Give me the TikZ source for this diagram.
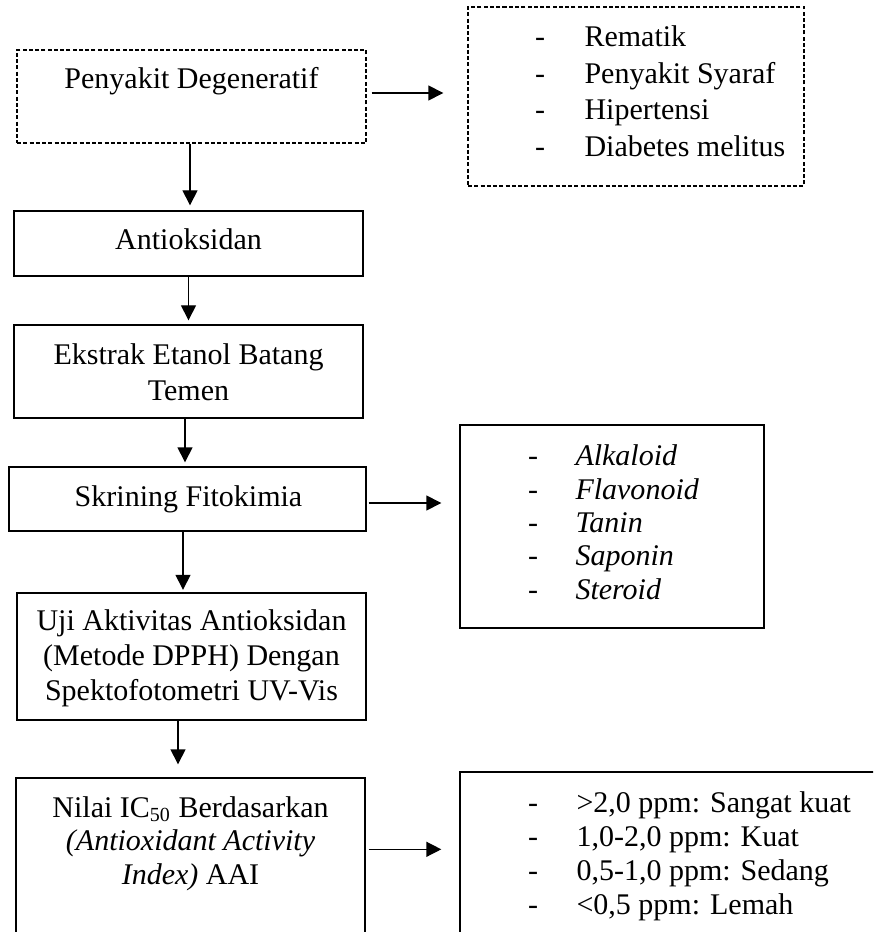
\documentclass[tikz,border=0pt]{standalone}
\usepackage{fontspec}
\setmainfont{Liberation Serif}
\usetikzlibrary{arrows.meta}
\begin{document}
\begin{tikzpicture}[x=0.4pt,y=-0.4pt,
  box/.style={draw, line width=0.55pt, rectangle, inner sep=0pt},
  dbox/.style={box, dash pattern=on 1.6pt off 0.9pt},
  txt/.style={inner sep=0pt, anchor=base, font=\fontsize{12pt}{14pt}\selectfont},
  ltxt/.style={txt, anchor=base west},
  arr/.style={draw, line width=0.55pt, -{Triangle[length=6pt,width=6pt]}}]
\useasboundingbox (0,0) rectangle (873,932);
\clip (0,0) rectangle (873,932);
% boxes
\node[dbox, minimum width=349*0.4pt, minimum height=93*0.4pt] (pd) at (191.5,96.5) {};
\node[dbox, minimum width=336*0.4pt, minimum height=179*0.4pt] (rl) at (636,96.5) {};
\node[box, minimum width=349*0.4pt, minimum height=65*0.4pt] (an) at (188.5,243.5) {};
\node[box, minimum width=349*0.4pt, minimum height=93*0.4pt] (ek) at (188.5,371.5) {};
\node[box, minimum width=357*0.4pt, minimum height=64*0.4pt] (sk) at (187.5,499) {};
\node[box, minimum width=304*0.4pt, minimum height=203*0.4pt] (fl) at (612,526.5) {};
\node[box, minimum width=349*0.4pt, minimum height=127*0.4pt] (uj) at (191.5,656.5) {};
\node[box, minimum width=349*0.4pt, minimum height=180*0.4pt] (ni) at (190.5,868) {};
\node[box, minimum width=440*0.4pt, minimum height=180*0.4pt] (pp) at (680,862) {};
% texts
\node[txt] (t1) at (191.5,89) {Penyakit Degeneratif};
\node[txt] (t2) at (188.5,250) {Antioksidan};
\node[txt] (t3a) at (188.5,364) {Ekstrak Etanol Batang};
\node[txt] (t3b) at (188.5,400) {Temen};
\node[txt] (t4) at (188.5,506) {Skrining Fitokimia};
\node[txt] (t5a) at (191.5,630) {Uji Aktivitas Antioksidan};
\node[txt] (t5b) at (191.5,665) {(Metode DPPH) Dengan};
\node[txt] (t5c) at (191.5,700) {Spektofotometri UV-Vis};
\node[txt] (t6a) at (190.5,817) {Nilai IC\textsubscript{50} Berdasarkan};
\node[txt] (t6b) at (190.5,850) {\textit{(Antioxidant Activity}};
\node[txt] (t6c) at (190.5,884) {\textit{Index)} AAI};
% list 1
\foreach \y/\t [count=\i] in {47/Rematik,83.5/Penyakit Syaraf,120/Hipertensi,157/Diabetes melitus}{
  \node[txt] (d1\i) at (540,\y) {-};
  \node[ltxt] (l1\i) at (584,\y) {\t};
}
% list 2
\foreach \y/\t [count=\i] in {465/Alkaloid,499/Flavonoid,532/Tanin,565/Saponin,599/Steroid}{
  \node[txt] (d2\i) at (533,\y) {-};
  \node[ltxt] (l2\i) at (575,\y) {\textit{\t}};
}
% list 3
\foreach \y/\t [count=\i] in {812/{>2,0 ppm: Sangat kuat},846/{1,0-2,0 ppm: Kuat},880/{0,5-1,0 ppm: Sedang},914/{<0,5 ppm: Lemah}}{
  \node[txt] (d3\i) at (533,\y) {-};
  \node[ltxt] (l3\i) at (576,\y) {\t};
}
% arrows
\draw[arr, shorten <=2pt, shorten >=9.6pt] ([yshift=1.4pt]pd.east) -- ([yshift=1.4pt]pd.east -| rl.west);
\draw[arr, shorten <=0.8pt, shorten >=7.2pt] ([yshift=-1.6pt]sk.east) -- ([yshift=-1.6pt]sk.east -| fl.west);
\coordinate (nie) at ([yshift=-28.8pt]ni.north east);
\draw[arr, shorten <=1.2pt, shorten >=7.2pt] (nie) -- (nie -| pp.west);
\draw[arr, shorten >=2pt] ([xshift=-0.6pt]pd.south) -- ([xshift=-0.6pt]pd.south |- an.north);
\draw[arr, shorten >=1.6pt] (an.south) -- (an.south |- ek.north);
\draw[arr, shorten >=1.6pt] ([xshift=-1.4pt]ek.south) -- ([xshift=-1.4pt]ek.south |- sk.north);
\draw[arr, shorten >=1pt] ([xshift=-1.8pt]sk.south) -- ([xshift=-1.8pt]sk.south |- uj.north);
\draw[arr, shorten >=5.2pt] ([xshift=-5.4pt]uj.south) -- ([xshift=-5.4pt]uj.south |- ni.north);
\end{tikzpicture}
\end{document}
